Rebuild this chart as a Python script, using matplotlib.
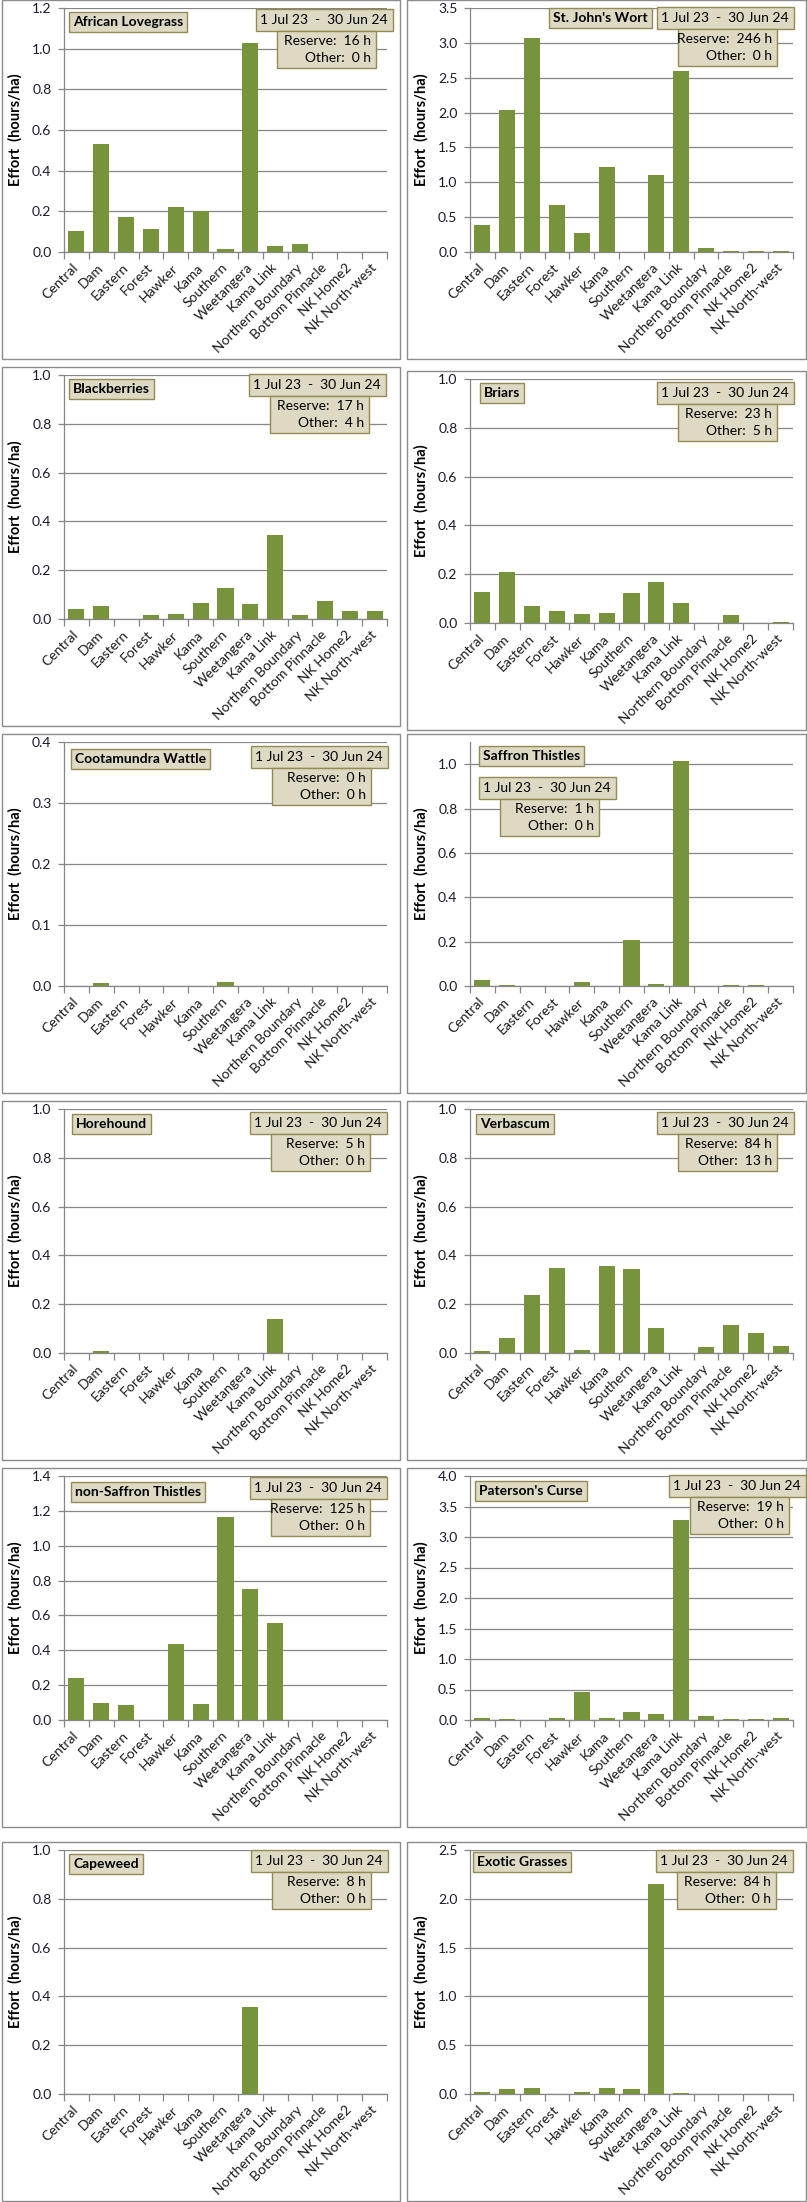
"""Weed control effort by management area, 1 Jul 23 - 30 Jun 24 (12 small bar panels)."""

import matplotlib

matplotlib.use("Agg")
import matplotlib.pyplot as plt
import matplotlib.transforms as mtransforms
import numpy as np
from matplotlib.patches import Rectangle
from matplotlib.ticker import FixedLocator, FormatStrFormatter

SITES = [
    "Central", "Dam", "Eastern", "Forest", "Hawker", "Kama", "Southern",
    "Weetangera", "Kama Link", "Northern Boundary", "Bottom Pinnacle",
    "NK Home2", "NK North-west",
]

# effort (hours/ha) per site
AFRICAN_LOVEGRASS = [0.102, 0.531, 0.171, 0.112, 0.220, 0.200, 0.013, 1.029, 0.028, 0.038, 0, 0, 0]
ST_JOHNS_WORT = [0.392, 2.042, 3.075, 0.679, 0.277, 1.224, 0, 1.110, 2.600, 0.062, 0.019, 0.019, 0.019]
BLACKBERRIES = [0.040, 0.052, 0, 0.015, 0.019, 0.064, 0.126, 0.060, 0.344, 0.015, 0.073, 0.032, 0.032]
BRIARS = [0.126, 0.210, 0.068, 0.051, 0.035, 0.043, 0.122, 0.168, 0.081, 0, 0.031, 0, 0.006]
COOTAMUNDRA_WATTLE = [0, 0.0055, 0, 0, 0, 0, 0.007, 0, 0, 0, 0, 0, 0]
SAFFRON_THISTLES = [0.028, 0.006, 0, 0, 0.019, 0, 0.208, 0.010, 1.013, 0, 0.006, 0.006, 0]
HOREHOUND = [0, 0.0096, 0, 0, 0, 0, 0, 0, 0.141, 0, 0, 0, 0]
VERBASCUM = [0.010, 0.063, 0.239, 0.350, 0.014, 0.358, 0.346, 0.104, 0, 0.026, 0.116, 0.083, 0.030]
NON_SAFFRON_THISTLES = [0.243, 0.099, 0.088, 0, 0.438, 0.094, 1.167, 0.753, 0.558, 0, 0, 0, 0]
PATERSONS_CURSE = [0.038, 0.022, 0, 0.038, 0.464, 0.038, 0.137, 0.104, 3.284, 0.071, 0.022, 0.022, 0.038]
CAPEWEED = [0, 0, 0, 0, 0, 0, 0, 0.357, 0, 0, 0, 0, 0]
EXOTIC_GRASSES = [0.024, 0.055, 0.065, 0, 0.024, 0.065, 0.055, 2.152, 0.014, 0, 0, 0, 0]

WEEDS = [
    "African Lovegrass", "St. John's Wort", "Blackberries", "Briars",
    "Cootamundra Wattle", "Saffron Thistles", "Horehound", "Verbascum",
    "non-Saffron Thistles", "Paterson's Curse", "Capeweed", "Exotic Grasses",
]
EFFORT = [
    AFRICAN_LOVEGRASS, ST_JOHNS_WORT, BLACKBERRIES, BRIARS, COOTAMUNDRA_WATTLE,
    SAFFRON_THISTLES, HOREHOUND, VERBASCUM, NON_SAFFRON_THISTLES,
    PATERSONS_CURSE, CAPEWEED, EXOTIC_GRASSES,
]
RESERVE_HOURS = [16, 246, 17, 23, 0, 1, 5, 84, 125, 19, 8, 84]
OTHER_HOURS = [0, 0, 4, 5, 0, 0, 0, 13, 0, 0, 0, 0]
PERIOD = "1 Jul 23  -  30 Jun 24"

# y axis per panel
YMAX = [1.2, 3.5, 1.0, 1.0, 0.4, 1.1, 1.0, 1.0, 1.4, 4.0, 1.0, 2.5]
YSTEP = [0.2, 0.5, 0.2, 0.2, 0.1, 0.2, 0.2, 0.2, 0.2, 0.5, 0.2, 0.5]

# layout, in pixels of the 807x2202 output
W, H = 807, 2202
AXES_LEFT = [64, 470]
AXES_TOP = [8, 8, 375, 379, 742, 742, 1109, 1109, 1476, 1476, 1850, 1850]
AXES_W, AXES_H = 323, 244
PANEL_X = [(2, 400), (407, 806)]
# box corners relative to the axes' top-left corner
TITLE_AT = [(5, 3), (79, -1), (5, 3), (10, 3), (7, 6), (9, 3), (8, 4), (6, 4), (7, 5), (5, 4), (5, 3), (3, 1)]
DATE_AT = [(192, 1), (187, -1), (185, -1), (187, 3), (187, 4), (9, 35), (186, 3), (187, 3), (186, 1), (199, -1), (187, 0), (186, 0)]
DATE_W, DATE_H = 137, 22
HOURS_DX, HOURS_W, HOURS_H = 21, 99, 37

BAR = "#77933C"
GRID = "#868686"
BOX_FACE = "#DDD9C3"
BOX_EDGE = "#948A54"
FONT = "Lato"
FS = 10


def fx(px):
    return px / W


def fy(py):
    return 1 - py / H


def box(fig, left, top, w, h):
    fig.patches.append(Rectangle((fx(left), fy(top + h)), w / W, h / H,
                                 transform=fig.transFigure, facecolor=BOX_FACE,
                                 edgecolor=BOX_EDGE, lw=1.0, zorder=5))


def panel(fig, i):
    col = i % 2
    left, top = AXES_LEFT[col], AXES_TOP[i]

    # outer chart border
    x0, x1 = PANEL_X[col]
    fig.patches.append(Rectangle((fx(x0), fy(top + 351)), (x1 - x0) / W, 359 / H,
                                 transform=fig.transFigure, fill=False,
                                 edgecolor="#8C8C8C", lw=1.0, zorder=1))

    ax = fig.add_axes([fx(left), fy(top + AXES_H), AXES_W / W, AXES_H / H])
    x = np.arange(len(SITES))
    ax.bar(x, EFFORT[i], width=0.65, color=BAR, zorder=3)

    ax.set_xlim(-0.5, len(SITES) - 0.5)
    ax.set_ylim(0, YMAX[i])
    ax.yaxis.set_major_locator(FixedLocator(np.arange(0, YMAX[i] + 1e-9, YSTEP[i])))
    ax.yaxis.set_major_formatter(FormatStrFormatter("%.1f"))
    ax.yaxis.grid(True, color=GRID, lw=0.9, zorder=0)
    ax.set_axisbelow(True)
    for s in ("top", "right"):
        ax.spines[s].set_visible(False)
    for s in ("left", "bottom"):
        ax.spines[s].set_color(GRID)
        ax.spines[s].set_linewidth(0.9)

    ax.set_xticks(x)
    ax.set_xticklabels(SITES, rotation=45, ha="right", va="center",
                       rotation_mode="anchor", fontsize=FS, family=FONT, color="#1A1A1A")
    # nudge the slanted labels a little right, as in the source chart
    nudge = mtransforms.ScaledTranslation(3 / 100, 0, fig.dpi_scale_trans)
    for t in ax.get_xticklabels():
        t.set_transform(t.get_transform() + nudge)
    ax.set_xticks(np.arange(-0.5, len(SITES)), minor=True)
    ax.tick_params(axis="x", which="major", length=0, pad=10)
    ax.tick_params(axis="x", which="minor", length=5, color=GRID, width=0.9)
    ax.tick_params(axis="y", length=4, color=GRID, width=0.9, pad=5,
                   labelsize=FS, labelcolor="#1A1A2E")
    for t in ax.get_yticklabels():
        t.set_family(FONT)

    ax.set_ylabel("Effort  (hours/ha)", family=FONT, fontsize=10.5, fontweight="bold")
    ax.yaxis.set_label_coords(-41 / AXES_W, 0.5)

    # weed name
    tx, ty = TITLE_AT[i]
    fig.text(fx(left + tx + 4), fy(top + ty + 11), WEEDS[i], family=FONT,
             fontsize=FS, fontweight="bold", ha="left", va="center", zorder=6,
             bbox=dict(boxstyle="square,pad=0.28", facecolor=BOX_FACE,
                       edgecolor=BOX_EDGE, lw=1.0))

    # period + hours boxes
    dx, dy = DATE_AT[i]
    dl, dt = left + dx, top + dy
    box(fig, dl, dt, DATE_W, DATE_H)
    fig.text(fx(dl + 4), fy(dt + DATE_H / 2), PERIOD, family=FONT, fontsize=FS,
             ha="left", va="center", zorder=6)
    hl, ht = dl + HOURS_DX, dt + DATE_H
    box(fig, hl, ht, HOURS_W, HOURS_H)
    fig.text(fx(hl + HOURS_W - 5), fy(ht + 10), f"Reserve:  {RESERVE_HOURS[i]} h",
             family=FONT, fontsize=FS, ha="right", va="center", zorder=6)
    fig.text(fx(hl + HOURS_W - 5), fy(ht + 27), f"Other:  {OTHER_HOURS[i]} h",
             family=FONT, fontsize=FS, ha="right", va="center", zorder=6)


def main():
    fig = plt.figure(figsize=(W / 100, H / 100), dpi=100)
    fig.patch.set_facecolor("white")
    for i in range(len(WEEDS)):
        panel(fig, i)
    fig.savefig("out.png", dpi=100, facecolor="white")
    plt.close(fig)


if __name__ == "__main__":
    main()
